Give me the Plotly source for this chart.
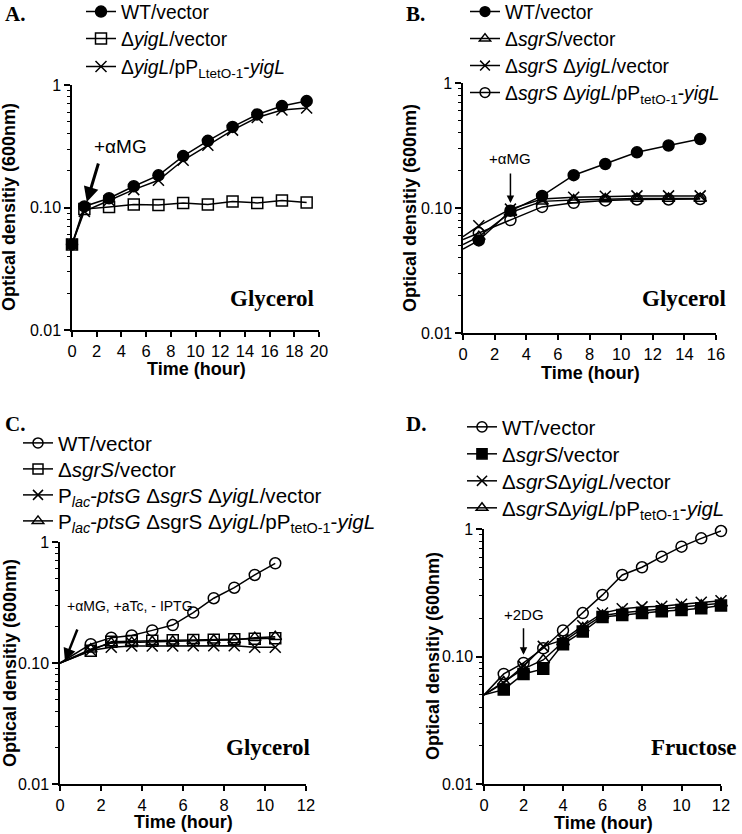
import plotly.graph_objects as go

# ---------------- data ----------------
# Panel A (Glycerol)
a_time = [0, 1, 3, 5, 7, 9, 11, 13, 15, 17, 19]
a_wt = [0.050, 0.102, 0.119, 0.149, 0.183, 0.263, 0.350, 0.455, 0.575, 0.673, 0.739]
a_dyigl = [0.050, 0.097, 0.101, 0.106, 0.105, 0.109, 0.106, 0.112, 0.109, 0.114, 0.110]
a_dyigl_p = [0.050, 0.093, 0.114, 0.140, 0.167, 0.243, 0.322, 0.428, 0.543, 0.624, 0.650]

# Panel B (Glycerol)
b_time = [0, 1, 3, 5, 7, 9, 11, 13, 15]
b_wt = [0.047, 0.055, 0.095, 0.125, 0.183, 0.225, 0.279, 0.316, 0.356]
b_dsgrs = [0.051, 0.059, 0.092, 0.113, 0.116, 0.118, 0.119, 0.119, 0.119]
b_dsgrs_dyigl = [0.059, 0.072, 0.098, 0.118, 0.122, 0.124, 0.125, 0.125, 0.125]
b_dsgrs_dyigl_p = [0.056, 0.063, 0.080, 0.102, 0.110, 0.115, 0.117, 0.117, 0.118]

# Panel C (Glycerol)
c_time = [0, 1.5, 2.5, 3.5, 4.5, 5.5, 6.5, 7.5, 8.5, 9.5, 10.5]
c_wt = [0.100, 0.143, 0.162, 0.169, 0.186, 0.206, 0.261, 0.343, 0.419, 0.534, 0.667]
c_dsgrs = [0.100, 0.126, 0.150, 0.152, 0.153, 0.154, 0.155, 0.156, 0.157, 0.159, 0.160]
c_plac_vec = [0.100, 0.127, 0.135, 0.138, 0.138, 0.138, 0.139, 0.139, 0.139, 0.135, 0.135]
c_plac_p = [0.100, 0.130, 0.146, 0.148, 0.150, 0.151, 0.153, 0.154, 0.155, 0.162, 0.165]

# Panel D (Fructose)
d_time = [0, 1, 2, 3, 4, 5, 6, 7, 8, 9, 10, 11, 12]
d_wt = [0.050, 0.073, 0.089, 0.116, 0.160, 0.219, 0.304, 0.436, 0.501, 0.607, 0.727, 0.845, 0.964]
d_dsgrs = [0.050, 0.055, 0.073, 0.080, 0.125, 0.157, 0.204, 0.212, 0.219, 0.226, 0.232, 0.239, 0.251]
d_dd_vec = [0.050, 0.062, 0.084, 0.120, 0.135, 0.174, 0.219, 0.237, 0.245, 0.248, 0.257, 0.266, 0.274]
d_dd_p = [0.050, 0.063, 0.080, 0.094, 0.130, 0.167, 0.210, 0.220, 0.228, 0.235, 0.243, 0.252, 0.262]

y_tickvals = [0.01, 0.1, 1]
y_ticktext = ["0.01", "0.10", "1"]

# ---------------- layout helpers ----------------
W, H = 742, 834
SANS = "Liberation Sans, Arial, sans-serif"
SERIF = "Liberation Serif, Times New Roman, serif"


def px(x):
    return x / W


def py(y):
    return 1 - y / H


fig = go.Figure()
legends = {}
MS = 11


def add(xs, ys, name, symbol, ax, leg_x, leg_y, leg_size, first_marker=True):
    sizes = [MS] * len(xs)
    if not first_marker:
        sizes[0] = 0
    key = "legend" if not legends else f"legend{len(legends) + 1}"
    legends[key] = dict(x=px(leg_x), y=py(leg_y), xanchor="left", yanchor="middle",
                        bgcolor="rgba(0,0,0,0)", itemwidth=30,
                        font=dict(family=SANS, size=leg_size, color="black"))
    fig.add_trace(go.Scatter(
        x=xs, y=ys, name=name, mode="lines+markers",
        line=dict(color="black", width=1.5),
        marker=dict(symbol=symbol, size=sizes, color="black", opacity=1,
                    line=dict(color="black", width=1.5)),
        xaxis="x" + ax, yaxis="y" + ax, legend=key, cliponaxis=False,
    ))


# A
LA, SA = 81, 19.3
add(a_time, a_wt, "WT/vector", "circle", "", LA, 12, SA)
add(a_time, a_dyigl, "Δ<i>yigL</i>/vector", "square-open", "", LA, 39, SA)
add(a_time, a_dyigl_p, "Δ<i>yigL</i>/pP<sub>LtetO-1</sub>-<i>yigL</i>", "x-thin-open", "", LA, 67, SA)
# B
LB, SB = 465, 19.3
add(b_time, b_wt, "WT/vector", "circle", "2", LB, 12, SB, False)
add(b_time, b_dsgrs, "Δ<i>sgrS</i>/vector", "triangle-up-open", "2", LB, 39, SB, False)
add(b_time, b_dsgrs_dyigl, "Δ<i>sgrS</i> Δ<i>yigL</i>/vector", "x-thin-open", "2", LB, 66, SB, False)
add(b_time, b_dsgrs_dyigl_p, "Δ<i>sgrS</i> Δ<i>yigL</i>/pP<sub>tetO-1</sub>-<i>yigL</i>", "circle-open", "2", LB, 93, SB, False)
# C
LC, SC = 18, 20.6
add(c_time, c_wt, "WT/vector", "circle-open", "3", LC, 443, SC, False)
add(c_time, c_dsgrs, "Δ<i>sgrS</i>/vector", "square-open", "3", LC, 469, SC, False)
add(c_time, c_plac_vec, "P<sub><i>lac</i></sub>-<i>ptsG</i> Δ<i>sgrS</i> Δ<i>yigL</i>/vector", "x-thin-open", "3", LC, 495, SC, False)
add(c_time, c_plac_p, "P<sub><i>lac</i></sub>-<i>ptsG</i> ΔsgrS Δ<i>yigL</i>/pP<sub>tetO-1</sub>-<i>yigL</i>", "triangle-up-open", "3", LC, 521, SC, False)
# D
LD, SD = 462, 20.5
add(d_time, d_wt, "WT/vector", "circle-open", "4", LD, 427, SD, False)
add(d_time, d_dsgrs, "Δ<i>sgrS</i>/vector", "square", "4", LD, 454, SD, False)
add(d_time, d_dd_vec, "Δ<i>sgrS</i>Δ<i>yigL</i>/vector", "x-thin-open", "4", LD, 481, SD, False)
add(d_time, d_dd_p, "Δ<i>sgrS</i>Δ<i>yigL</i>/pP<sub>tetO-1</sub>-<i>yigL</i>", "triangle-up-open", "4", LD, 508, SD, False)

minor_vals = [m * 10 ** e for e in (-2, -1) for m in range(2, 10)]


def xaxis(dom, rng, anchor):
    return dict(domain=dom, range=rng, anchor=anchor, dtick=2, tick0=0,
                showline=True, linecolor="black", linewidth=1.5,
                ticks="outside", ticklen=5, tickwidth=1.5, tickcolor="black",
                showgrid=False, zeroline=False,
                tickfont=dict(family=SANS, size=16.5, color="black"))


def yaxis(dom, anchor):
    return dict(domain=dom, type="log", range=[-2, 0], anchor=anchor,
                tickmode="array", tickvals=y_tickvals, ticktext=y_ticktext,
                showline=True, linecolor="black", linewidth=1.5,
                ticks="outside", ticklen=6, tickwidth=1.5, tickcolor="black",
                minor=dict(tickmode="array", tickvals=minor_vals, ticks="outside",
                           ticklen=3, tickwidth=1, tickcolor="black", showgrid=False),
                showgrid=False, zeroline=False,
                tickfont=dict(family=SANS, size=16, color="black"))


fig.update_layout(
    width=W, height=H,
    margin=dict(l=0, r=0, t=0, b=0, pad=0, autoexpand=False),
    plot_bgcolor="white", paper_bgcolor="white", showlegend=True,
    xaxis=xaxis([px(72), px(319)], [0, 20], "y"),
    yaxis=yaxis([py(330), py(85)], "x"),
    xaxis2=xaxis([px(463), px(716)], [0, 16], "y2"),
    yaxis2=yaxis([py(333), py(83)], "x2"),
    xaxis3=xaxis([px(60), px(306)], [0, 12], "y3"),
    yaxis3=yaxis([py(784), py(542)], "x3"),
    xaxis4=xaxis([px(484), px(721)], [0, 12], "y4"),
    yaxis4=yaxis([py(784), py(529)], "x4"),
    **legends,
)

ann = []


def label(text, x, y, size, family=SANS, bold=False, angle=0, xanchor="center"):
    t = f"<b>{text}</b>" if bold else text
    ann.append(dict(text=t, x=px(x), y=py(y), xref="paper", yref="paper",
                    showarrow=False, xanchor=xanchor, yanchor="middle",
                    textangle=angle, font=dict(family=family, size=size, color="black")))


# panel letters
label("A.", 3, 14, 21, SERIF, True, xanchor="left")
label("B.", 404, 14, 21, SERIF, True, xanchor="left")
label("C.", 3, 424, 21, SERIF, True, xanchor="left")
label("D.", 404, 424, 21, SERIF, True, xanchor="left")
# media labels
label("Glycerol", 272, 298, 23, SERIF, True)
label("Glycerol", 684, 298, 23, SERIF, True)
label("Glycerol", 268, 747, 23, SERIF, True)
label("Fructose", 694, 747, 23, SERIF, True)
# axis titles
for xc, yc in [(196, 369), (590, 373), (183, 822), (603, 823)]:
    label("Time (hour)", xc, yc, 18, SANS, True)
for xc, yc in [(9, 207), (410, 208), (10, 663), (433, 656)]:
    label("Optical densitiy (600nm)", xc, yc, 18, SANS, True, angle=-90)


def arrow(xref, yref, x, y, ax_, ay_, width):
    ann.append(dict(x=x, y=y, xref=xref, yref=yref, ax=ax_, ay=ay_, showarrow=True,
                    arrowhead=2, arrowsize=1, arrowwidth=width, arrowcolor="black", text=""))


def note(xref, yref, x, y, text, size):
    ann.append(dict(x=x, y=y, xref=xref, yref=yref, text=text, showarrow=False,
                    font=dict(family=SANS, size=size, color="black")))


# A: +αMG
note("x", "y", 3.9, -0.506, "+αMG", 19)
arrow("x", "y", 1.2, -0.955, 12, -40, 3)
# B
note("x2", "y2", 3.0, -0.60, "+αMG", 15)
arrow("x2", "y2", 3.0, -0.96, 0, -31, 1.5)
# C
note("x3", "y3", 3.4, -0.529, "+αMG, +aTc, - IPTG", 14)
arrow("x3", "y3", 0.24, -0.983, 13, -33, 2.5)
# D
note("x4", "y4", 2.0, -0.673, "+2DG", 15)
arrow("x4", "y4", 2.0, -0.987, 0, -28, 1.5)

fig.update_layout(annotations=ann)
fig.write_html("out.html", config={"displayModeBar": False},
               post_script="document.body.style.margin='0px';")
